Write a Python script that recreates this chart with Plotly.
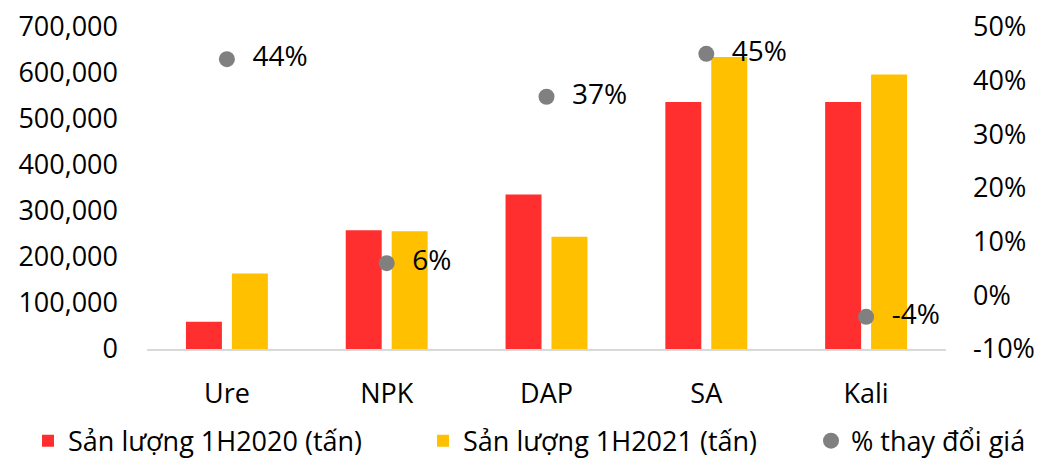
import plotly.graph_objects as go

categories = ["Ure", "NPK", "DAP", "SA", "Kali"]
output_1h2020 = [59000, 258000, 336000, 537000, 537000]
output_1h2021 = [164000, 256000, 244000, 635000, 597000]
price_change = [0.44, 0.06, 0.37, 0.45, -0.04]

left_ticks = [0, 100000, 200000, 300000, 400000, 500000, 600000, 700000]
right_ticks = [-0.1, 0.0, 0.1, 0.2, 0.3, 0.4, 0.5]

FONT = "Open Sans"
RED = "#FF2F2F"
YELLOW = "#FFC000"
GRAY = "#808080"

fig = go.Figure()
fig.add_trace(go.Bar(
    x=categories, y=output_1h2020, name="Sản lượng 1H2020 (tấn)",
    marker=dict(color=RED, line=dict(width=0)), legend="legend",
))
fig.add_trace(go.Bar(
    x=categories, y=output_1h2021, name="Sản lượng 1H2021 (tấn)",
    marker=dict(color=YELLOW, line=dict(width=0)), legend="legend2",
))
fig.add_trace(go.Scatter(
    x=categories, y=price_change, name="% thay đổi giá", yaxis="y2",
    mode="markers+text",
    marker=dict(color=GRAY, size=16),
    text=["\u00a0\u00a0" + f"{v * 100:.0f}%" for v in price_change],
    textposition="middle right",
    textfont=dict(family=FONT, size=28, color="#000000"),
    cliponaxis=False, legend="legend3",
))

legend_common = dict(
    orientation="h", yanchor="middle", y=-0.286, xanchor="left",
    xref="container", font=dict(family=FONT, size=27, color="#000000"),
    bgcolor="rgba(0,0,0,0)",
)

fig.update_layout(
    width=1049, height=458,
    margin=dict(l=146.5, r=102.5, t=27, b=109, autoexpand=False),
    paper_bgcolor="white", plot_bgcolor="white",
    font=dict(family=FONT, size=27, color="#000000"),
    barmode="group", bargap=0.425, bargroupgap=0.217,
    showlegend=True,
    legend=dict(x=28 / 1049, **legend_common),
    legend2=dict(x=423 / 1049, **legend_common),
    legend3=dict(x=811 / 1049, **legend_common),
    xaxis=dict(
        showline=True, linecolor="#d9d9d9", linewidth=2, ticks="",
        showgrid=False, ticklabelstandoff=20,
    ),
    yaxis=dict(
        range=[0, 700000], tickvals=left_ticks,
        ticktext=[f"{v:,}" for v in left_ticks],
        showgrid=False, zeroline=False, showline=False, ticks="",
        ticklabelstandoff=28,
    ),
    yaxis2=dict(
        overlaying="y", side="right", range=[-0.1, 0.5], tickvals=right_ticks,
        ticktext=[f"{v * 100:.0f}%" for v in right_ticks],
        showgrid=False, zeroline=False, showline=False, ticks="",
        ticklabelstandoff=26,
    ),
)

fig.write_html("out.html")
